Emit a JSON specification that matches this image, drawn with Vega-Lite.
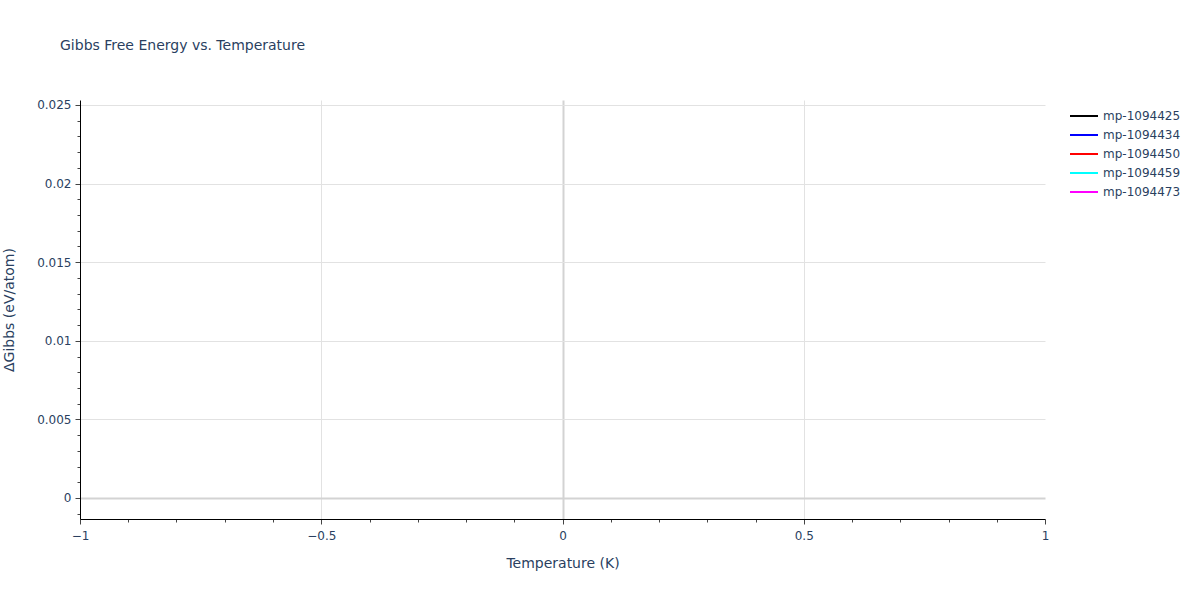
{
  "$schema": "https://vega.github.io/schema/vega-lite/v6.json",
  "autosize": {"type": "none"},
  "width": 965,
  "height": 419,
  "padding": {"left": 80, "top": 100, "right": 155, "bottom": 81},
  "background": "white",
  "title": {
    "text": "Gibbs Free Energy vs. Temperature",
    "anchor": "start",
    "frame": "group",
    "dx": -20,
    "offset": 39,
    "baseline": "middle",
    "font": "DejaVu Sans",
    "fontSize": 14,
    "fontWeight": "normal",
    "color": "#2a3f5f"
  },
  "config": {
    "view": {"stroke": null},
    "font": "DejaVu Sans",
    "axis": {
      "labelFont": "DejaVu Sans",
      "titleFont": "DejaVu Sans",
      "labelFontSize": 12,
      "titleFontSize": 14,
      "titleFontWeight": "normal",
      "labelColor": "#2a3f5f",
      "titleColor": "#2a3f5f",
      "domainColor": "#000000",
      "domainWidth": 1,
      "tickColor": "#444444",
      "tickWidth": 1
    }
  },
  "data": {
    "values": [
      {"material": "mp-1094425", "temperature": 0, "gibbs": 0},
      {"material": "mp-1094434", "temperature": 0, "gibbs": 0},
      {"material": "mp-1094450", "temperature": 0, "gibbs": 0},
      {"material": "mp-1094459", "temperature": 0, "gibbs": 0},
      {"material": "mp-1094473", "temperature": 0, "gibbs": 0}
    ]
  },
  "mark": {"type": "line", "strokeWidth": 2},
  "encoding": {
    "x": {
      "field": "temperature",
      "type": "quantitative",
      "scale": {"domain": [-1, 1], "nice": false, "zero": false},
      "axis": {
        "title": "Temperature (K)",
        "values": [-1, -0.9, -0.8, -0.7, -0.6, -0.5, -0.4, -0.3, -0.2, -0.1, 0, 0.1, 0.2, 0.3, 0.4, 0.5, 0.6, 0.7, 0.8, 0.9, 1],
        "labelExpr": "abs(datum.value*2 - round(datum.value*2)) < 0.000001 ? (datum.value < 0 ? '−' + format(-datum.value, '~g') : format(datum.value, '~g')) : ''",
        "labelPadding": 6,
        "labelFlush": false,
        "labelOverlap": false,
        "tickSize": {"condition": {"test": "abs(datum.value*2 - round(datum.value*2)) < 0.000001", "value": 5}, "value": 3},
        "grid": true,
        "gridOpacity": {"condition": {"test": "abs(datum.value*2 - round(datum.value*2)) < 0.000001 && abs(datum.value) < 0.99", "value": 1}, "value": 0},
        "gridColor": {"condition": {"test": "datum.value == 0", "value": "#d3d3d3"}, "value": "#e2e2e2"},
        "gridWidth": {"condition": {"test": "datum.value == 0", "value": 2}, "value": 1},
        "titlePadding": 15
      }
    },
    "y": {
      "field": "gibbs",
      "type": "quantitative",
      "scale": {"domain": [-0.001336, 0.025318], "nice": false, "zero": false},
      "axis": {
        "title": "ΔGibbs (eV/atom)",
        "values": [-0.001, 0, 0.001, 0.002, 0.003, 0.004, 0.005, 0.006, 0.007, 0.008, 0.009, 0.01, 0.011, 0.012, 0.013, 0.014, 0.015, 0.016, 0.017, 0.018, 0.019, 0.02, 0.021, 0.022, 0.023, 0.024, 0.025],
        "labelExpr": "abs(datum.value*200 - round(datum.value*200)) < 0.000001 ? format(datum.value, '~g') : ''",
        "labelPadding": 4,
        "labelFlush": false,
        "labelOverlap": false,
        "tickSize": {"condition": {"test": "abs(datum.value*200 - round(datum.value*200)) < 0.000001", "value": 5}, "value": 3},
        "grid": true,
        "gridOpacity": {"condition": {"test": "abs(datum.value*200 - round(datum.value*200)) < 0.000001", "value": 1}, "value": 0},
        "gridColor": {"condition": {"test": "datum.value == 0", "value": "#d3d3d3"}, "value": "#e2e2e2"},
        "gridWidth": {"condition": {"test": "datum.value == 0", "value": 2}, "value": 1},
        "titlePadding": 20
      }
    },
    "color": {
      "field": "material",
      "type": "nominal",
      "scale": {
        "domain": ["mp-1094425", "mp-1094434", "mp-1094450", "mp-1094459", "mp-1094473"],
        "range": ["#000000", "#0000ff", "#ff0000", "#00ffff", "#ff00ff"]
      },
      "legend": {
        "title": null,
        "orient": "none",
        "legendX": 996,
        "legendY": 8,
        "padding": 0,
        "symbolType": "M-2,0H2",
        "symbolSize": 196,
        "symbolStrokeWidth": 2,
        "symbolFillColor": "transparent",
        "labelOffset": 11,
        "rowPadding": 5,
        "labelFont": "DejaVu Sans",
        "labelFontSize": 12,
        "labelColor": "#2a3f5f"
      }
    }
  }
}
